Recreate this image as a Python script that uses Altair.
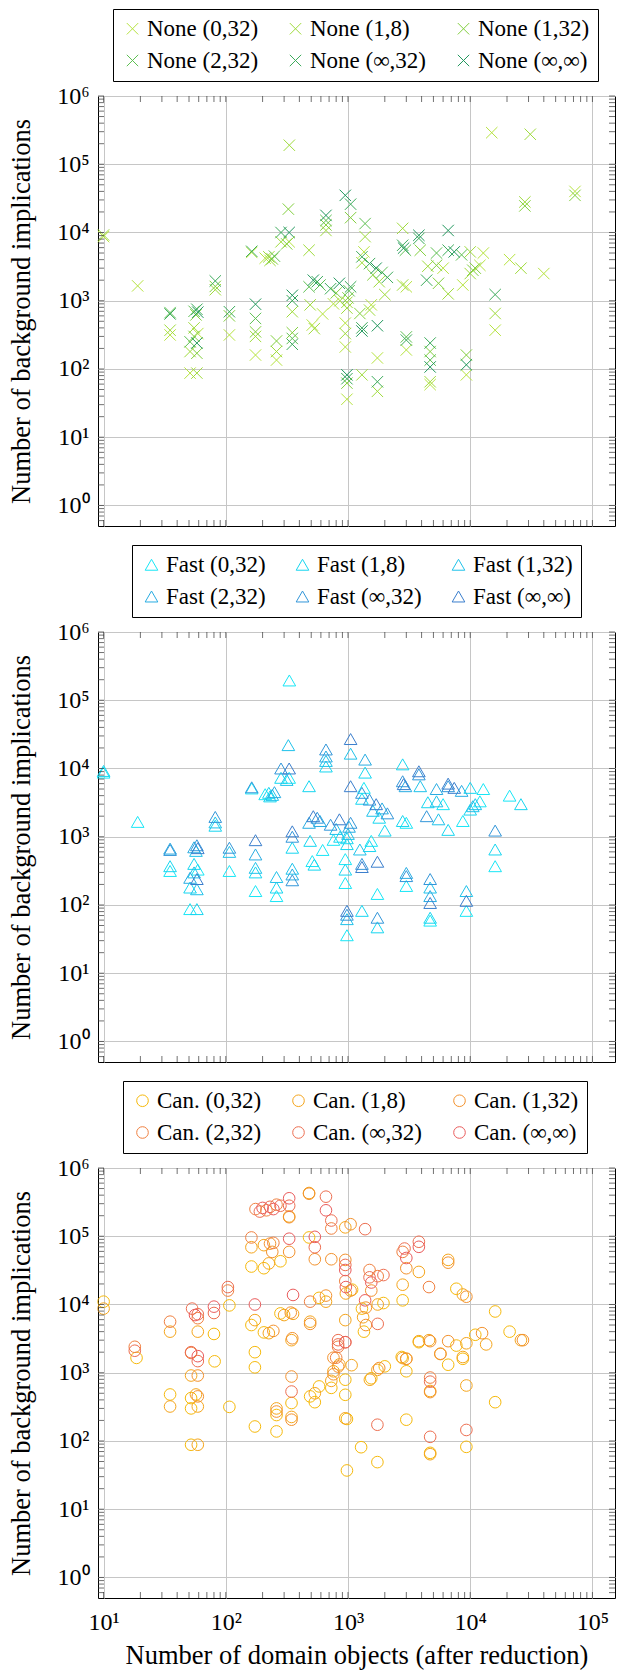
import altair as alt
import pandas as pd

FONT = "Liberation Serif"

# ---------------- data (x = domain objects, y = background implications) -------------
NONE_LABELS = ["None (0,32)", "None (1,8)", "None (1,32)", "None (2,32)", "None (∞,32)", "None (∞,∞)"]
FAST_LABELS = ["Fast (0,32)", "Fast (1,8)", "Fast (1,32)", "Fast (2,32)", "Fast (∞,32)", "Fast (∞,∞)"]
CAN_LABELS = ["Can. (0,32)", "Can. (1,8)", "Can. (1,32)", "Can. (2,32)", "Can. (∞,32)", "Can. (∞,∞)"]

NONE_COLORS = ["#b6e33f", "#9fdb3c", "#82cf3e", "#5ec052", "#3cab5b", "#21975d"]
FAST_COLORS = ["#17e6f6", "#16d6f0", "#1fc2ea", "#28ace2", "#3296d9", "#3a7ecd"]
CAN_COLORS = ["#f6b90a", "#f5a51c", "#f3922e", "#f08040", "#ed6e50", "#ea5c5c"]

NONE_0_32 = [(10, 8700), (15000, 290000), (72000, 40000), (330, 7300), (163, 5100), (210, 4200),
             (12800, 5000), (21000, 4000), (40000, 2500), (12000, 3300), (6000, 3000), (8700, 1700),
             (3000, 1600), (16000, 370), (19, 1650), (35, 315), (59, 330), (51, 87), (107, 315),
             (175, 160), (260, 135), (510, 440), (620, 640), (760, 900), (950, 470), (950, 210),
             (980, 36), (1350, 5200), (1740, 145), (1550, 870), (3000, 190), (4700, 59), (9300, 82)]
NONE_1_8 = [(10, 9200), (331, 190000), (31000, 275000), (28000, 28000), (660, 10700), (1380, 8700),
            (283, 7300), (225, 4400), (230, 3900), (480, 5500), (2800, 11500), (10000, 5200),
            (26000, 3000), (10000, 2500), (4500, 3200), (6600, 1260), (2800, 1700), (16000, 650),
            (82, 1450), (35, 370), (55, 400), (51, 180), (58, 87), (175, 300), (260, 180), (350, 690),
            (490, 870), (530, 390), (860, 1000), (980, 950), (980, 780), (950, 330), (1300, 3600),
            (1300, 82), (1800, 1900), (1740, 47), (1500, 730), (2000, 1230), (4700, 65)]
NONE_1_32 = [(72000, 35000), (28000, 24500), (325, 22000), (1050, 16500), (660, 12900), (315, 6800),
             (240, 4100), (3900, 5500), (11000, 3000), (10500, 2800), (5300, 3300), (5500, 1800),
             (82, 1620), (57, 620), (55, 300), (58, 170), (107, 600), (175, 350), (260, 257),
             (350, 340), (800, 1300), (1000, 1100), (980, 62), (1250, 650), (1600, 2400),
             (4700, 180), (9300, 160)]
NONE_2_32 = [(660, 15000), (1380, 13500), (250, 4500), (2950, 5500), (5300, 5000), (8500, 4700),
             (35, 670), (55, 700), (51, 250), (175, 550), (350, 280), (480, 1600), (590, 1700),
             (1020, 1400), (1900, 2600), (3000, 295), (4700, 135)]
NONE_INF_32 = [(1050, 26000), (283, 10000), (163, 5300), (2800, 6500), (3800, 8200), (6600, 5500),
               (4400, 2000), (16000, 1230), (82, 1950), (35, 640), (58, 750), (107, 690), (350, 1000),
               (350, 230), (560, 1900), (720, 1500), (1050, 1600), (980, 72), (1300, 4400), (1300, 400),
               (1500, 3500), (2100, 2200), (1740, 65), (3000, 265), (4700, 240)]
NONE_INF_INF = [(950, 35000), (660, 17800), (330, 10000), (2850, 5900), (3800, 9100), (6600, 10700),
                (7400, 5200), (59, 680), (58, 240), (175, 890), (350, 1200), (520, 2000), (850, 1800),
                (980, 82), (1300, 360), (1700, 3000), (1740, 430), (4700, 107), (9300, 115)]

FAST_0_32 = [(10, 8700), (330, 7300), (163, 5100), (210, 4200), (12800, 5000), (21000, 4000),
             (12000, 3300), (6000, 3000), (8700, 1700), (3000, 1600), (16000, 370), (19, 1650),
             (35, 315), (59, 330), (51, 87), (107, 315), (175, 160), (260, 135), (510, 440), (620, 640),
             (760, 900), (950, 470), (950, 210), (980, 36), (1350, 5200), (1740, 145), (1550, 870),
             (3000, 190), (4700, 59), (9300, 82), (331, 195000)]
FAST_1_8 = [(10, 9200), (660, 10700), (1380, 8700), (283, 7300), (225, 4400), (230, 3900), (480, 5500),
            (2800, 11500), (10000, 5200), (26000, 3000), (10000, 2500), (4500, 3200), (6600, 1260),
            (2800, 1700), (16000, 650), (82, 1450), (35, 370), (55, 400), (51, 180), (58, 87),
            (175, 300), (260, 180), (350, 690), (490, 870), (530, 390), (860, 1000), (980, 950),
            (980, 780), (950, 330), (1300, 3600), (1300, 82), (1800, 1900), (1740, 47), (1500, 730),
            (2000, 1230), (4700, 65)]
FAST_1_32 = [(325, 22000), (1050, 16500), (660, 12900), (315, 6800), (240, 4100), (3900, 5500),
             (11000, 3000), (10500, 2800), (5300, 3300), (5500, 1800), (82, 1620), (57, 620), (55, 300),
             (58, 170), (107, 600), (175, 350), (260, 257), (350, 340), (800, 1300), (1000, 1100),
             (980, 62), (1250, 650), (1600, 2400), (4700, 180), (9300, 160)]
FAST_2_32 = [(660, 15000), (1380, 13500), (250, 4500), (2950, 5500), (5300, 5000), (8500, 4700),
             (35, 670), (55, 700), (51, 250), (175, 550), (350, 280), (480, 1600), (590, 1700),
             (1020, 1400), (1900, 2600), (3000, 295), (4700, 135)]
FAST_INF_32 = [(660, 19000), (283, 10000), (163, 5300), (2800, 6500), (3800, 8200), (6600, 5500),
               (4400, 2000), (16000, 1230), (82, 1950), (35, 640), (58, 750), (107, 690), (350, 1000),
               (350, 230), (560, 1900), (720, 1500), (1050, 1600), (980, 72), (1300, 4400), (1300, 400),
               (1500, 3500), (2100, 2200), (1740, 65), (3000, 265), (4700, 240)]
FAST_INF_INF = [(1050, 27000), (330, 10000), (2850, 5900), (3800, 9100), (6600, 6000),
                (7400, 5200), (59, 680), (58, 240), (175, 890), (350, 1200), (520, 2000), (850, 1800),
                (980, 82), (1300, 360), (1700, 3000), (1740, 430), (4700, 107), (9300, 115), (1050, 5500)]

CAN_0_32 = [(10, 11000), (480, 96000), (162, 36000), (205, 34000), (280, 43000), (1080, 16500),
            (1950, 10500), (1300, 8700), (1350, 4000), (2800, 11500), (7700, 17000), (16000, 7900),
            (21000, 4000), (3800, 2800), (7700, 2500), (11000, 3600), (107, 9700), (80, 3700),
            (162, 5000), (205, 3900), (280, 7400), (580, 12500), (173, 2000), (2750, 1700),
            (18.6, 1650), (52, 425), (52, 300), (35, 480), (81, 1470), (52, 88), (107, 316),
            (173, 1200), (173, 163), (260, 240), (260, 138), (345, 360), (490, 450), (535, 370),
            (580, 630), (730, 600), (950, 790), (950, 475), (980, 210), (980, 37), (1280, 81),
            (1550, 830), (2000, 1240), (1740, 49), (3000, 1050), (3000, 205), (4700, 67),
            (6600, 1310), (8700, 1600), (9300, 82), (16000, 370)]
CAN_1_8 = [(10, 8700), (480, 430000), (330, 195000), (950, 135000), (162, 69000), (205, 74000),
           (225, 40000), (960, 14500), (1750, 10000), (1330, 6500), (3800, 30000), (2800, 19500),
           (6600, 45000), (8700, 14000), (26000, 3000), (4600, 3000), (9300, 2700), (13500, 2600),
           (59, 4000), (35, 4000), (173, 5900), (225, 3800), (300, 7000), (355, 7300), (490, 5600),
           (660, 11000), (950, 5900), (3000, 1600), (8700, 1700), (52, 910), (57, 480), (59, 320),
           (35, 320), (59, 88), (260, 300), (345, 3000), (345, 225), (535, 500), (730, 760),
           (760, 1050), (850, 1320), (950, 215), (1070, 1290), (1510, 790), (1740, 1100),
           (2800, 1640), (3800, 2900), (4700, 540), (4700, 64), (5700, 1880), (9300, 650)]
CAN_1_32 = [(480, 420000), (330, 190000), (1050, 150000), (230, 78000), (240, 59000), (330, 59000),
            (535, 46000), (730, 46000), (950, 45000), (1050, 16000), (1550, 16000), (1400, 5000),
            (1400, 9000), (3000, 34000), (6600, 41000), (9300, 13000), (6600, 2900), (12500, 3800),
            (245, 4100), (340, 7600), (350, 3200), (490, 5200), (660, 13500), (5700, 1900), (59, 910),
            (59, 450), (260, 270), (345, 880), (345, 205), (760, 950), (760, 1660), (830, 1230),
            (1800, 1170), (3000, 1600), (4700, 2900), (4700, 520), (27000, 3000)]
CAN_2_32 = [(175, 250000), (215, 240000), (260, 290000), (730, 130000), (162, 96000), (245, 80000),
            (950, 22000), (1500, 32000), (1750, 26000), (2800, 59000), (4600, 18000), (104, 16000),
            (59, 6300), (35, 5600), (490, 11000), (830, 2400), (18, 2400), (52, 1950), (800, 1660),
            (950, 2800), (4700, 850)]
CAN_INF_32 = [(660, 380000), (330, 280000), (190, 230000), (230, 270000), (280, 280000), (730, 170000),
              (1380, 127000), (535, 69000), (950, 38000), (1500, 25000), (1950, 27000), (1750, 5200),
              (2900, 66000), (3800, 83000), (104, 18000), (53, 8700), (59, 7200), (80, 7500), (830, 3000),
              (18, 2100), (52, 2000), (59, 1480), (345, 530), (830, 2600), (1740, 173), (4700, 740),
              (4700, 115), (9300, 145)]
CAN_INF_INF = [(330, 360000), (200, 260000), (245, 250000), (660, 240000), (535, 98000), (330, 92000),
               (950, 32000), (960, 18000), (1380, 11500), (1550, 21000), (3000, 48000), (3800, 70000),
               (56, 7000), (80, 9300), (173, 10000), (355, 13800), (950, 2800), (59, 1750)]

X_MAJOR = [10, 100, 1000, 10000, 100000]
Y_MAJOR = [1, 10, 100, 1000, 10000, 100000, 1000000]
SUPERSCRIPTS = ["⁰", "¹", "²", "³", "⁴", "⁵", "⁶"]

X_DOMAIN = [9.0, 153000]
Y_DOMAIN = [0.5, 1000000]

X_TITLE = "Number of domain objects (after reduction)"
Y_TITLE = "Number of background implications"

CROSS = "M-1,-1L1,1M1,-1L-1,1"

W, H = 517, 430
TICK = 6

# ------------------------------------------------------------------------------
def label_expr():
    parts = []
    for k, s in enumerate(SUPERSCRIPTS):
        parts.append(f"datum.value < {10 ** k * 3} ? '{s}' : ")
    return "'10' + (" + "".join(parts) + "'')"


minor_x = [m * 10 ** k for k in range(0, 6) for m in range(1, 10)
           if X_DOMAIN[0] < m * 10 ** k < X_DOMAIN[1]]
minor_y = [m * 10 ** k for k in range(-1, 7) for m in range(1, 10)
           if Y_DOMAIN[0] < m * 10 ** k <= Y_DOMAIN[1]]

AXIS_TEXT = dict(labelFont=FONT, titleFont=FONT, labelFontSize=24, titleFontSize=26.5,
                 labelColor="black", titleColor="black", titleFontWeight="normal",
                 gridColor="#c6c6c6", gridWidth=1)


def panel(series, labels, colors, shape, size, legend_x, show_x):
    rows = []
    for i, (lab, pts) in enumerate(zip(labels, series)):
        for x, y in pts:
            rows.append({"x": x, "y": y, "s": lab, "o": i})
    df = pd.DataFrame(rows)
    xs = alt.Scale(type="log", domain=X_DOMAIN, nice=False)
    ys = alt.Scale(type="log", domain=Y_DOMAIN, nice=False)

    if show_x:
        xaxis = alt.Axis(values=X_MAJOR, labelExpr=label_expr(), ticks=False, domain=False,
                         grid=True, title=X_TITLE, labelPadding=12, titlePadding=8,
                         labelFlush=False, labelOverlap=False, **AXIS_TEXT)
    else:
        xaxis = alt.Axis(values=X_MAJOR, labels=False, ticks=False, domain=False,
                         grid=True, title=None, **AXIS_TEXT)
    yaxis = alt.Axis(values=Y_MAJOR, labelExpr=label_expr(), ticks=False, domain=False, grid=True,
                     title=Y_TITLE, labelPadding=9, titlePadding=21, labelFlush=False,
                     labelOverlap=False, **AXIS_TEXT)

    pts = alt.Chart(df).mark_point(shape=shape, filled=False, size=size, strokeWidth=1,
                                   opacity=1).encode(
        x=alt.X("x:Q", scale=xs, axis=xaxis),
        y=alt.Y("y:Q", scale=ys, axis=yaxis),
        color=alt.Color("s:N", scale=alt.Scale(domain=labels, range=colors),
                        legend=alt.Legend(orient="none", legendX=legend_x, legendY=-87, columns=3,
                                          direction="horizontal",
                                          symbolType=shape, symbolSize=size, symbolStrokeWidth=1,
                                          title=None)),
        order=alt.Order("o:Q"),
    )

    xt = pd.DataFrame({"v": minor_x})
    yt = pd.DataFrame({"v": minor_y})
    tick_style = dict(color="#333333", strokeWidth=0.7)
    top = alt.Chart(xt).mark_rule(**tick_style).encode(
        x=alt.X("v:Q", scale=xs, axis=xaxis), y=alt.value(0), y2=alt.value(TICK))
    bot = alt.Chart(xt).mark_rule(**tick_style).encode(
        x=alt.X("v:Q", scale=xs, axis=xaxis), y=alt.value(H - TICK), y2=alt.value(H))
    left = alt.Chart(yt).mark_rule(**tick_style).encode(
        y=alt.Y("v:Q", scale=ys, axis=yaxis), x=alt.value(0), x2=alt.value(TICK))
    right = alt.Chart(yt).mark_rule(**tick_style).encode(
        y=alt.Y("v:Q", scale=ys, axis=yaxis), x=alt.value(W - TICK), x2=alt.value(W))

    return alt.layer(pts, top, bot, left, right).properties(width=W, height=H)


p1 = panel([NONE_0_32, NONE_1_8, NONE_1_32, NONE_2_32, NONE_INF_32, NONE_INF_INF],
           NONE_LABELS, NONE_COLORS, CROSS, 130, 15, False)
p2 = panel([FAST_0_32, FAST_1_8, FAST_1_32, FAST_2_32, FAST_INF_32, FAST_INF_INF],
           FAST_LABELS, FAST_COLORS, "triangle-up", 160, 34, False)
p3 = panel([CAN_0_32, CAN_1_8, CAN_1_32, CAN_2_32, CAN_INF_32, CAN_INF_INF],
           CAN_LABELS, CAN_COLORS, "circle", 135, 25, True)

chart = alt.vconcat(p1, p2, p3, spacing=17).resolve_scale(
    color="independent"
).properties(
    padding={"left": 8, "top": 8, "right": 2, "bottom": 4}
).configure_view(
    stroke="black", strokeWidth=1
).configure_axis(**AXIS_TEXT).configure_legend(
    labelFont=FONT, labelFontSize=23, labelColor="black", labelLimit=300,
    strokeColor="black", strokeWidth=1, fillColor="white", padding=8,
    columnPadding=25, rowPadding=8, labelOffset=3
)

chart.save("out.html", embed_options={"renderer": "svg", "actions": False})
